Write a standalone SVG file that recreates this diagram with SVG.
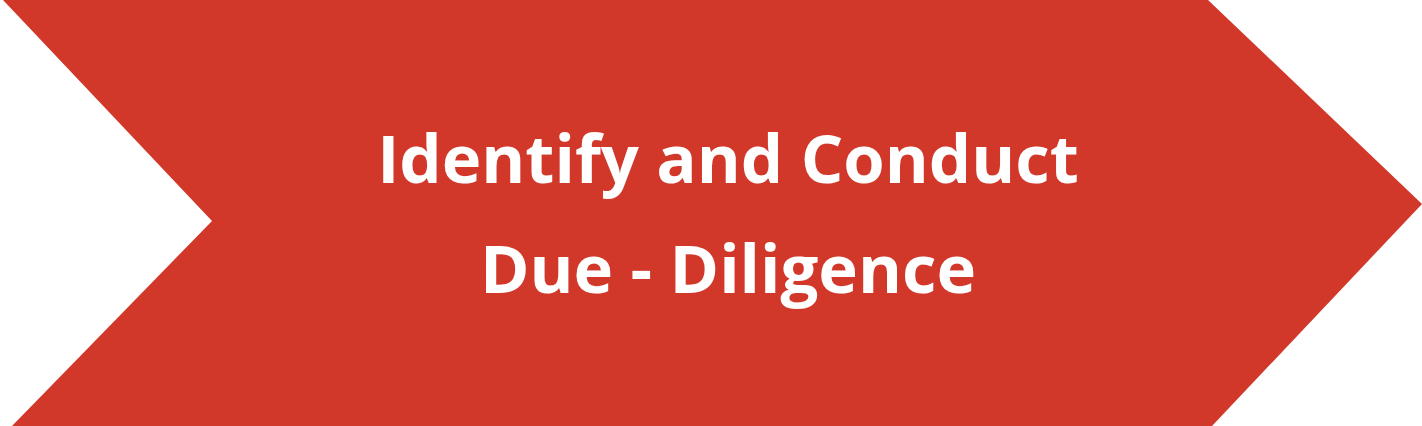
<svg xmlns="http://www.w3.org/2000/svg" width="1422" height="426" viewBox="0 0 1422 426">
<style>
.shape{fill:#D2382A}
.label{font-family:"Open Sans","Liberation Sans",sans-serif;font-weight:700;font-size:67px;fill:#FFFFFF;text-anchor:middle}
</style>
<rect width="1422" height="426" fill="#FFFFFF"/>
<g id="chevron">
<polygon class="shape" points="3,0 1208,0 1422,204 1212,426 12,426 212,221"/>
<text class="label" x="728" y="183">Identify and Conduct</text>
<text class="label" x="728" y="293">Due - Diligence</text>
</g>
</svg>
